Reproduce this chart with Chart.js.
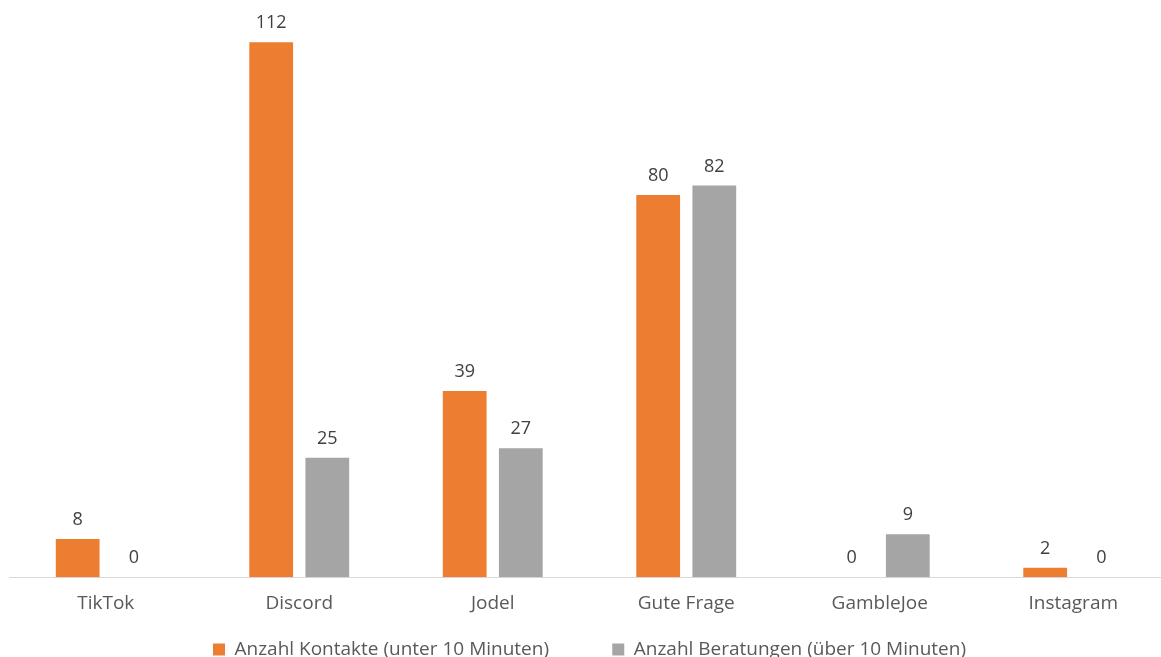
<!DOCTYPE html>
<html>
<head>
<meta charset="utf-8">
<script src="https://cdn.jsdelivr.net/npm/chart.js@4.4.1/dist/chart.umd.min.js"></script>
<style>
  html, body { margin: 0; padding: 0; background: #fff; overflow: hidden; }
  #wrap { width: 1170px; height: 657px; }
</style>
</head>
<body>
<div id="wrap"><canvas id="chart"></canvas></div>
<script>
// categories and values
var platforms = ['TikTok', 'Discord', 'Jodel', 'Gute Frage', 'GambleJoe', 'Instagram'];
var kontakte = [8, 112, 39, 80, 0, 2];
var beratungen = [0, 25, 27, 82, 9, 0];

// draw the value above each bar
var valueLabels = {
    id: 'valueLabels',
    afterDatasetsDraw: function (chart) {
        var ctx = chart.ctx;
        ctx.save();
        ctx.font = '18px "Open Sans"';
        ctx.fillStyle = '#404040';
        ctx.textAlign = 'center';
        ctx.textBaseline = 'middle';
        chart.data.datasets.forEach(function (ds, i) {
            var meta = chart.getDatasetMeta(i);
            meta.data.forEach(function (bar, j) {
                ctx.fillText(String(ds.data[j]), bar.x, bar.y - 19);
            });
        });
        ctx.restore();
    }
};

new Chart(document.getElementById('chart'), {
    type: 'bar',
    data: {
        labels: platforms,
        datasets: [{
            label: 'Anzahl Kontakte (unter 10 Minuten)',
            data: kontakte,
            backgroundColor: '#ED7D31'
        }, {
            label: 'Anzahl Beratungen (über 10 Minuten)',
            data: beratungen,
            backgroundColor: '#A5A5A5'
        }]
    },
    options: {
        responsive: true,
        maintainAspectRatio: false,
        animation: false,
        categoryPercentage: 0.58,
        barPercentage: 0.78,
        layout: { padding: { left: 9, right: 0, top: 4, bottom: -12 } },
        scales: {
            y: { display: false, min: 0, max: 120 },
            x: {
                grid: { display: false },
                border: { display: true, color: '#d9d9d9', width: 1 },
                ticks: { color: '#595959', font: { family: 'Open Sans', size: 19 }, padding: 7 },
                afterFit: function (scale) { scale.height += 14; }
            }
        },
        plugins: {
            tooltip: { enabled: false },
            legend: {
                position: 'bottom',
                labels: {
                    color: '#595959',
                    font: { family: 'Open Sans', size: 19 },
                    boxWidth: 12,
                    boxHeight: 12,
                    padding: 4,
                    generateLabels: function (chart) {
                        var items = Chart.defaults.plugins.legend.labels.generateLabels(chart);
                        items[0].text += '            ';
                        return items;
                    }
                }
            }
        }
    },
    plugins: [valueLabels]
});
</script>
</body>
</html>
